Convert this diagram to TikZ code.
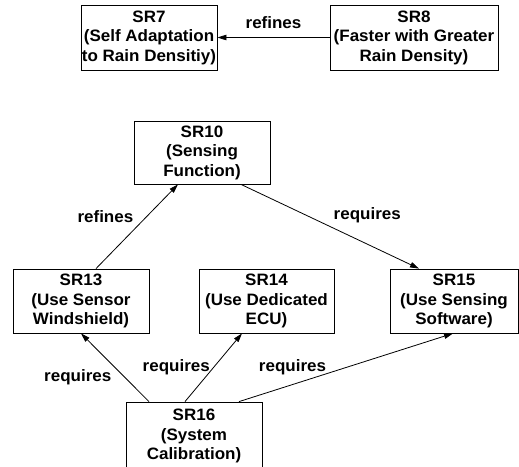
\documentclass[tikz,border=0pt]{standalone}
\usepackage{fontspec}
\setmainfont{Liberation Sans}[FakeStretch=1.03]
\usetikzlibrary{arrows.meta}
\tikzset{
  req/.style={draw, line width=0.8pt, align=center, inner sep=1pt, minimum height=64pt},
  rel/.style={-{Triangle[length=9pt, width=5.5pt]}, line width=0.8pt},
}
\begin{document}
\begin{tikzpicture}[x=1pt, y=-1pt, font=\bfseries\fontsize{16.5}{19.5}\selectfont]
    \useasboundingbox (0,0) rectangle (519,466);
    \node[req, minimum width=136pt, minimum height=65pt] (sr7) at (149,37.5) {SR7\\(Self Adaptation\\to Rain Densitiy)};
    \node[req, minimum width=168pt, minimum height=65pt] (sr8) at (414,37.5) {SR8\\(Faster with Greater\\Rain Density)};
    \node[req, minimum width=136pt, minimum height=63pt] (sr10) at (202,152.5) {SR10\\(Sensing\\Function)};
    \node[req, minimum width=136pt] (sr13) at (81,301) {SR13\\(Use Sensor\\Windshield)};
    \node[req, minimum width=135pt] (sr14) at (266.5,301) {SR14\\(Use Dedicated\\ECU)};
    \node[req, minimum width=128pt] (sr15) at (454,301) {SR15\\(Use Sensing\\Software)};
    \node[req, minimum width=136pt, minimum height=68pt] (sr16) at (194,436) {SR16\\(System\\Calibration)};
    \draw[rel] (sr8.west) -- (sr7.east) node[midway, above, yshift=5pt] {refines};
    \draw[rel] ([xshift=15pt]sr13.north) -- ([xshift=-24pt]sr10.south) node[midway, left, yshift=10pt] {refines};
    \draw[rel] ([xshift=39pt]sr10.south) -- ([xshift=-35pt]sr15.north) node[midway, above right] {requires};
    \draw[rel] ([xshift=-45pt]sr16.north) -- (sr13.south) node[midway, left, yshift=-10pt] {requires};
    \draw[rel] ([xshift=-9pt]sr16.north) -- ([xshift=-24.5pt]sr14.south) node[midway, left] {requires};
    \draw[rel] ([xshift=45pt]sr16.north) -- ([xshift=-1pt]sr15.south) node[pos=0.25, above, yshift=6pt] {requires};
\end{tikzpicture}
\end{document}
